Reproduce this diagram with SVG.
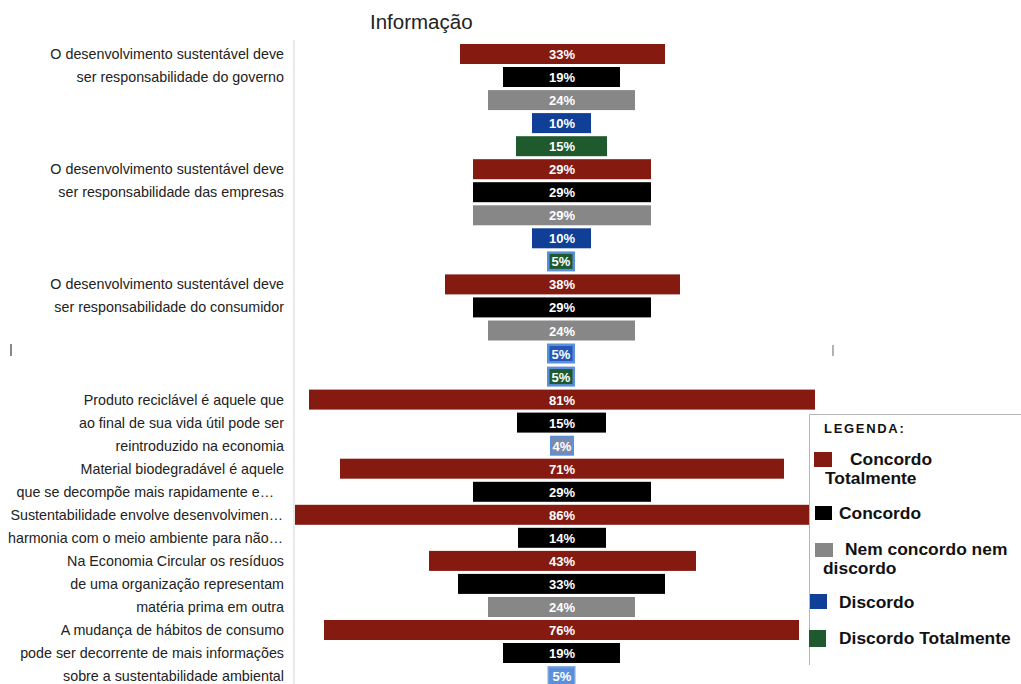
<svg xmlns="http://www.w3.org/2000/svg" width="1021" height="684" viewBox="0 0 1021 684">
<style>
.lbl{font-family:"Liberation Sans",Arial,sans-serif;font-size:14.3px;fill:#222;text-anchor:end}
.val{font-family:"Liberation Sans",Arial,sans-serif;font-size:13px;font-weight:bold;fill:#fff;text-anchor:middle}
.title{font-family:"Liberation Sans",Arial,sans-serif;font-size:20.5px;fill:#222}
.leg{font-family:"Liberation Sans",Arial,sans-serif;font-size:17.4px;font-weight:bold;fill:#111}
.legh{font-family:"Liberation Sans",Arial,sans-serif;font-size:13px;font-weight:bold;fill:#111;letter-spacing:1.7px}
.r{fill:#851a11}.k{fill:#000}.g{fill:#878787}.b{fill:#0f3f97}.gr{fill:#1f5a2e}.lb{fill:#5b8fd9}
</style>
<rect width="1021" height="684" fill="#fff"/>
<text class="title" x="370" y="29">Informação</text>
<g id="axis">
<line x1="294" y1="40" x2="294" y2="684" stroke="#e2e2e2" stroke-width="1.5"/>
<line x1="11" y1="344" x2="11" y2="356" stroke="#888" stroke-width="2"/>
<line x1="833" y1="345" x2="833" y2="356" stroke="#999" stroke-width="1.5"/>
</g>
<g id="row0" transform="translate(0,54)"><text class="lbl" x="284" y="5">O desenvolvimento sustentável deve</text><rect class="r" x="460" y="-10" width="205" height="20"/><text class="val" x="562" y="5">33%</text></g>
<g id="row1" transform="translate(0,77)"><text class="lbl" x="284" y="5">ser responsabilidade do governo</text><rect class="k" x="503" y="-10" width="117" height="20"/><text class="val" x="562" y="5">19%</text></g>
<g id="row2" transform="translate(0,100.1)"><rect class="g" x="488" y="-10" width="147" height="20"/><text class="val" x="562" y="5">24%</text></g>
<g id="row3" transform="translate(0,123.1)"><rect class="b" x="532" y="-10" width="59" height="20"/><text class="val" x="562" y="5">10%</text></g>
<g id="row4" transform="translate(0,146.2)"><rect class="gr" x="516" y="-10" width="91" height="20"/><text class="val" x="562" y="5">15%</text></g>
<g id="row5" transform="translate(0,169.2)"><text class="lbl" x="284" y="5">O desenvolvimento sustentável deve</text><rect class="r" x="473" y="-10" width="178" height="20"/><text class="val" x="562" y="5">29%</text></g>
<g id="row6" transform="translate(0,192.2)"><text class="lbl" x="284" y="5">ser responsabilidade das empresas</text><rect class="k" x="473" y="-10" width="178" height="20"/><text class="val" x="562" y="5">29%</text></g>
<g id="row7" transform="translate(0,215.3)"><rect class="g" x="473" y="-10" width="178" height="20"/><text class="val" x="562" y="5">29%</text></g>
<g id="row8" transform="translate(0,238.3)"><rect class="b" x="532" y="-10" width="59" height="20"/><text class="val" x="562" y="5">10%</text></g>
<g id="row9" transform="translate(0,261.4)"><rect class="lb" x="547" y="-10" width="28" height="20"/><rect class="gr" x="549.5" y="-7.5" width="23" height="15"/><text class="val" x="561" y="5">5%</text></g>
<g id="row10" transform="translate(0,284.4)"><text class="lbl" x="284" y="5">O desenvolvimento sustentável deve</text><rect class="r" x="445" y="-10" width="235" height="20"/><text class="val" x="562" y="5">38%</text></g>
<g id="row11" transform="translate(0,307.4)"><text class="lbl" x="284" y="5">ser responsabilidade do consumidor</text><rect class="k" x="473" y="-10" width="178" height="20"/><text class="val" x="562" y="5">29%</text></g>
<g id="row12" transform="translate(0,330.5)"><rect class="g" x="488" y="-10" width="147" height="20"/><text class="val" x="562" y="5">24%</text></g>
<g id="row13" transform="translate(0,353.5)"><rect class="lb" x="547" y="-10" width="28" height="20"/><rect x="549.5" y="-7.5" width="23" height="15" fill="#2457b8"/><text class="val" x="561" y="5">5%</text></g>
<g id="row14" transform="translate(0,376.6)"><rect class="lb" x="547" y="-10" width="28" height="20"/><rect class="gr" x="549.5" y="-7.5" width="23" height="15"/><text class="val" x="561" y="5">5%</text></g>
<g id="row15" transform="translate(0,399.6)"><text class="lbl" x="284" y="5">Produto reciclável é aquele que</text><rect class="r" x="309" y="-10" width="506" height="20"/><text class="val" x="562" y="5">81%</text></g>
<g id="row16" transform="translate(0,422.6)"><text class="lbl" x="284" y="5">ao final de sua vida útil pode ser</text><rect class="k" x="517" y="-10" width="89" height="20"/><text class="val" x="562" y="5">15%</text></g>
<g id="row17" transform="translate(0,445.7)"><text class="lbl" x="284" y="5">reintroduzido na economia</text><rect class="lb" x="550" y="-10" width="24" height="20"/><rect x="552" y="-7.5" width="20" height="15" fill="#7b8bab"/><text class="val" x="562" y="5">4%</text></g>
<g id="row18" transform="translate(0,468.7)"><text class="lbl" x="284" y="5">Material biodegradável é aquele</text><rect class="r" x="340" y="-10" width="444" height="20"/><text class="val" x="562" y="5">71%</text></g>
<g id="row19" transform="translate(0,491.8)"><text class="lbl" x="274" y="5">que se decompõe mais rapidamente e…</text><rect class="k" x="473" y="-10" width="178" height="20"/><text class="val" x="562" y="5">29%</text></g>
<g id="row20" transform="translate(0,514.8)"><text class="lbl" x="283" y="5">Sustentabilidade envolve desenvolvimen…</text><rect class="r" x="295" y="-10" width="534" height="20"/><text class="val" x="562" y="5">86%</text></g>
<g id="row21" transform="translate(0,537.8)"><text class="lbl" x="283" y="5">harmonia com o meio ambiente para não…</text><rect class="k" x="518" y="-10" width="88" height="20"/><text class="val" x="562" y="5">14%</text></g>
<g id="row22" transform="translate(0,560.9)"><text class="lbl" x="284" y="5">Na Economia Circular os resíduos</text><rect class="r" x="429" y="-10" width="267" height="20"/><text class="val" x="562" y="5">43%</text></g>
<g id="row23" transform="translate(0,583.9)"><text class="lbl" x="284" y="5">de uma organização representam</text><rect class="k" x="458" y="-10" width="207" height="20"/><text class="val" x="562" y="5">33%</text></g>
<g id="row24" transform="translate(0,607)"><text class="lbl" x="284" y="5">matéria prima em outra</text><rect class="g" x="488" y="-10" width="147" height="20"/><text class="val" x="562" y="5">24%</text></g>
<g id="row25" transform="translate(0,630)"><text class="lbl" x="284" y="5">A mudança de hábitos de consumo</text><rect class="r" x="324" y="-10" width="475" height="20"/><text class="val" x="562" y="5">76%</text></g>
<g id="row26" transform="translate(0,653)"><text class="lbl" x="284" y="5">pode ser decorrente de mais informações</text><rect class="k" x="503" y="-10" width="117" height="20"/><text class="val" x="562" y="5">19%</text></g>
<g id="row27" transform="translate(0,676.1)"><text class="lbl" x="284" y="5">sobre a sustentabilidade ambiental</text><rect x="547.5" y="-10" width="28" height="20" fill="#7aa5e3"/><rect class="lb" x="549" y="-8.5" width="25" height="17"/><text class="val" x="562" y="5">5%</text></g>
<g id="legend">
<rect x="809.5" y="414.5" width="212" height="251" fill="#fff"/>
<line x1="809.5" y1="414.5" x2="1021" y2="414.5" stroke="#b5b5b5" stroke-width="1"/>
<line x1="809.5" y1="414.5" x2="809.5" y2="665" stroke="#b5b5b5" stroke-width="1"/>
<text class="legh" x="824" y="433">LEGENDA:</text>
<rect class="r" x="814" y="452" width="18" height="15"/>
<text class="leg" x="850" y="465">Concordo</text>
<text class="leg" x="825" y="484">Totalmente</text>
<rect class="k" x="815" y="506" width="17" height="14"/>
<text class="leg" x="839" y="519">Concordo</text>
<rect class="g" x="815" y="543" width="18" height="14"/>
<text class="leg" x="845" y="555">Nem concordo nem</text>
<text class="leg" x="823" y="574">discordo</text>
<rect class="b" x="810" y="594" width="17" height="15"/>
<text class="leg" x="839" y="608">Discordo</text>
<rect class="gr" x="809" y="630" width="17" height="17"/>
<text class="leg" x="839" y="644">Discordo Totalmente</text>
</g>
</svg>
